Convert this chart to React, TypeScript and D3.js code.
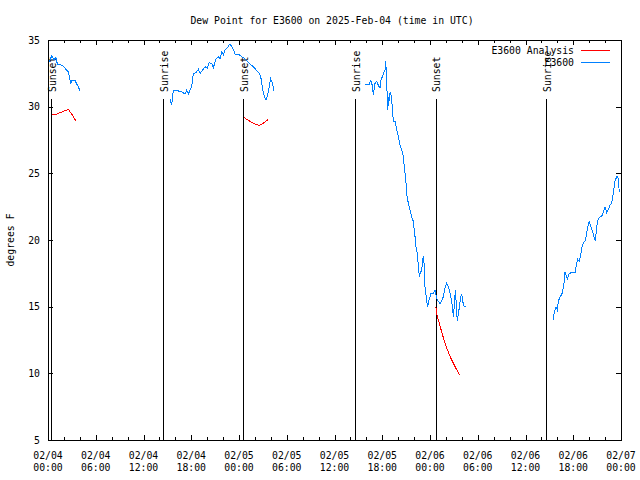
import React from 'react';
import * as d3 from 'd3';

// Hours since 2025-02-04 00:00 UTC, dew point (°F)
const obsSeg1: [number, number][] = [
  [0.04, 33.2], [0.46, 33.8], [0.75, 33.5], [1.0, 33.7], [1.17, 33.2], [1.72, 33.1], [2.0, 33.0],
  [2.26, 32.8], [2.55, 32.6], [2.68, 32.25], [2.85, 31.7], [2.98, 32.0], [3.39, 32.0], [3.6, 31.7],
  [3.8, 31.5], [4.02, 31.2],
];
const obsSeg2: [number, number][] = [
  [15.33, 30.55], [15.54, 30.1], [15.75, 31.25], [16.25, 31.2], [16.8, 31.1], [17.22, 30.95],
  [17.43, 31.25], [17.63, 30.95], [18.06, 31.5], [18.26, 32.45], [18.6, 32.55], [18.89, 32.8],
  [19.1, 32.5], [19.44, 32.75], [19.73, 33.0], [20.02, 32.9], [20.23, 33.3], [20.57, 33.25],
  [20.77, 32.9], [21.11, 33.6], [21.4, 33.75], [21.61, 33.6], [21.83, 34.1], [22.03, 33.9],
  [22.24, 34.25], [22.53, 34.4], [22.66, 34.55], [22.87, 34.7], [23.08, 34.5], [23.29, 34.3],
  [23.5, 33.95], [23.91, 33.95], [24.34, 33.75], [24.75, 33.6], [25.04, 33.4], [25.38, 33.2],
  [25.8, 33.0], [26.22, 32.7], [26.55, 32.5], [26.73, 32.25], [26.98, 31.3], [27.18, 30.75],
  [27.39, 30.5], [27.61, 30.9], [27.8, 31.5], [27.98, 32.1], [28.19, 31.75], [28.4, 31.2],
];
const obsSeg3: [number, number][] = [
  [39.83, 31.7], [40.38, 31.7], [40.55, 31.95], [40.75, 31.6], [40.88, 30.9], [41.09, 31.75],
  [41.3, 31.9], [41.51, 31.6], [41.72, 31.4], [41.85, 32.05], [42.06, 32.3], [42.22, 32.6],
  [42.35, 32.75], [42.44, 33.4], [42.56, 31.75], [42.69, 29.75], [42.81, 30.75], [42.89, 30.4],
  [42.98, 31.1], [43.1, 30.9], [43.27, 30.0], [43.39, 28.9], [43.6, 28.9], [43.82, 28.25],
  [44.02, 27.75], [44.23, 27.1], [44.45, 26.75], [44.65, 26.25], [44.77, 25.5], [44.95, 24.6],
  [45.08, 23.4], [45.28, 22.75], [45.49, 22.25], [45.7, 21.75], [45.9, 21.4], [46.12, 20.25],
  [46.24, 19.5], [46.41, 19.0], [46.53, 18.1], [46.66, 17.25], [46.75, 17.5], [46.96, 17.75],
  [47.09, 18.5], [47.16, 18.8], [47.29, 18.0], [47.37, 16.5], [47.59, 15.4], [47.71, 15.0],
  [47.92, 15.6], [48.13, 16.0], [48.34, 15.95], [48.5, 16.1], [48.63, 16.25], [48.84, 15.6],
  [49.05, 15.4], [49.26, 15.25], [49.47, 15.4], [49.67, 15.75], [49.89, 16.4], [50.1, 16.75],
  [50.3, 16.5], [50.52, 16.0], [50.73, 15.4], [50.86, 14.75], [50.93, 14.25], [51.06, 15.1],
  [51.18, 16.25], [51.27, 15.5], [51.36, 14.5], [51.43, 13.9], [51.56, 14.5], [51.68, 14.9],
  [51.86, 15.75], [51.99, 15.95], [52.11, 15.4], [52.27, 15.05], [52.49, 15.05],
];
const obsSeg4: [number, number][] = [
  [63.5, 14.0], [63.62, 14.6], [63.84, 14.95], [64.0, 14.75], [64.13, 15.4], [64.34, 15.75],
  [64.55, 15.9], [64.68, 16.2], [64.84, 16.75], [64.97, 17.6], [65.09, 17.4], [65.26, 17.1],
  [65.51, 17.5], [65.81, 17.55], [66.22, 17.55], [66.44, 18.25], [66.56, 18.55], [66.76, 18.4],
  [66.94, 18.9], [67.07, 19.4], [67.27, 19.8], [67.48, 19.9], [67.69, 20.5], [67.82, 21.0],
  [68.02, 21.45], [68.2, 21.0], [68.45, 20.6], [68.65, 20.1], [68.78, 19.9], [68.95, 21.0],
  [69.15, 21.6], [69.37, 21.75], [69.58, 21.8], [69.78, 22.05], [69.99, 22.5], [70.21, 22.05],
  [70.41, 22.3], [70.62, 22.6], [70.84, 22.8], [71.04, 23.5], [71.25, 24.45], [71.47, 24.75],
  [71.59, 24.8], [71.67, 24.4], [71.79, 23.6],
];
const anaSeg1: [number, number][] = [
  [0.46, 29.4], [1.1, 29.45], [1.72, 29.6], [2.55, 29.8], [2.98, 29.45], [3.52, 28.9],
];
const anaSeg2: [number, number][] = [
  [24.63, 29.2], [24.97, 29.05], [25.38, 28.9], [26.0, 28.7], [26.55, 28.6], [27.05, 28.75], [27.68, 29.05],
];
const anaSeg3: [number, number][] = [
  [48.72, 15.0], [48.92, 14.25], [49.17, 13.75], [49.47, 13.1], [49.76, 12.5], [50.1, 11.9],
  [50.43, 11.4], [50.73, 11.0], [51.15, 10.5], [51.68, 9.9],
];

const obsSegments = [obsSeg1, obsSeg2, obsSeg3, obsSeg4];
const anaSegments = [anaSeg1, anaSeg2, anaSeg3];

const eventHours = [0.4, 14.49, 24.55, 38.62, 48.7, 62.62];
const eventLabels = ['Sunset', 'Sunrise', 'Sunset', 'Sunrise', 'Sunset', 'Sunrise'];

const xTickHours = [0, 6, 12, 18, 24, 30, 36, 42, 48, 54, 60, 66, 72];
const xTickDates = ['02/04', '02/04', '02/04', '02/04', '02/05', '02/05', '02/05', '02/05', '02/06', '02/06', '02/06', '02/06', '02/07'];
const xTickTimes = ['00:00', '06:00', '12:00', '18:00', '00:00', '06:00', '12:00', '18:00', '00:00', '06:00', '12:00', '18:00', '00:00'];
const yTicks = [5, 10, 15, 20, 25, 30, 35];

const BLUE = '#0080ff';
const RED = '#ff0000';
const FONT = "'DejaVu Sans Mono', 'Liberation Mono', monospace";
const FS = 9.8;

export default function App() {
  const W = 640, H = 480;
  const left = 48, right = 621, top = 40, bottom = 440;
  const x = d3.scaleLinear().domain([0, 72]).range([left, right]);
  const y = d3.scaleLinear().domain([5, 35]).range([bottom, top]);
  const line = d3.line<[number, number]>().x(d => x(d[0])).y(d => y(d[1]));
  const minorHours = d3.range(0, 73, 2).filter(h => h % 6 !== 0);

  return (
    <svg width={W} height={H} style={{ position: 'absolute', left: 0, top: 0, background: '#fff' }}
      fontFamily={FONT} fontSize={FS}>
      <rect x={0} y={0} width={W} height={H} fill="#fff" />
      {/* title */}
      <text x={332} y={20} textAnchor="middle" dominantBaseline="central">
        Dew Point for E3600 on 2025-Feb-04 (time in UTC)
      </text>
      {/* y label */}
      <text transform={`translate(10,240) rotate(-90)`} textAnchor="middle" dominantBaseline="central">degrees F</text>

      {/* y ticks */}
      {yTicks.map(v => (
        <g key={'y' + v} shapeRendering="crispEdges">
          <line x1={left} x2={left + 5} y1={Math.round(y(v)) + 0.5} y2={Math.round(y(v)) + 0.5} stroke="#000" />
          <line x1={right - 5} x2={right} y1={Math.round(y(v)) + 0.5} y2={Math.round(y(v)) + 0.5} stroke="#000" />
          <text x={40} y={y(v)} textAnchor="end" dominantBaseline="central">{v}</text>
        </g>
      ))}
      {/* x ticks */}
      {xTickHours.map((h, i) => (
        <g key={'x' + h} shapeRendering="crispEdges">
          <line x1={Math.round(x(h)) + 0.5} x2={Math.round(x(h)) + 0.5} y1={bottom} y2={bottom - 5} stroke="#000" />
          <line x1={Math.round(x(h)) + 0.5} x2={Math.round(x(h)) + 0.5} y1={top} y2={top + 5} stroke="#000" />
          <text x={x(h)} y={455} textAnchor="middle" dominantBaseline="central">{xTickDates[i]}</text>
          <text x={x(h)} y={467} textAnchor="middle" dominantBaseline="central">{xTickTimes[i]}</text>
        </g>
      ))}
      {minorHours.map(h => (
        <g key={'m' + h} shapeRendering="crispEdges">
          <line x1={Math.round(x(h)) + 0.5} x2={Math.round(x(h)) + 0.5} y1={bottom} y2={bottom - 3} stroke="#000" />
          <line x1={Math.round(x(h)) + 0.5} x2={Math.round(x(h)) + 0.5} y1={top} y2={top + 3} stroke="#000" />
        </g>
      ))}

      {/* sunrise / sunset */}
      {eventHours.map((h, i) => (
        <g key={'e' + i}>
          <line x1={Math.round(x(h)) + 0.5} x2={Math.round(x(h)) + 0.5} y1={99} y2={bottom} stroke="#000" shapeRendering="crispEdges" />
          <text transform={`translate(${x(h) + 4.5},92) rotate(-90)`} textAnchor="start">{eventLabels[i]}</text>
        </g>
      ))}

      {/* data */}
      {anaSegments.map((s, i) => (
        <path key={'a' + i} d={line(s) || ''} fill="none" stroke={RED} strokeWidth={1} shapeRendering="crispEdges" />
      ))}
      {obsSegments.map((s, i) => (
        <path key={'o' + i} d={line(s) || ''} fill="none" stroke={BLUE} strokeWidth={1} shapeRendering="crispEdges" />
      ))}

      {/* legend */}
      <text x={574} y={50} textAnchor="end" dominantBaseline="central">E3600 Analysis</text>
      <line x1={581} x2={610} y1={50.5} y2={50.5} stroke={RED} shapeRendering="crispEdges" />
      <text x={574} y={62} textAnchor="end" dominantBaseline="central">E3600</text>
      <line x1={581} x2={610} y1={62.5} y2={62.5} stroke={BLUE} shapeRendering="crispEdges" />

      {/* border */}
      <rect x={left + 0.5} y={top + 0.5} width={right - left} height={bottom - top} fill="none" stroke="#000" shapeRendering="crispEdges" />
    </svg>
  );
}
